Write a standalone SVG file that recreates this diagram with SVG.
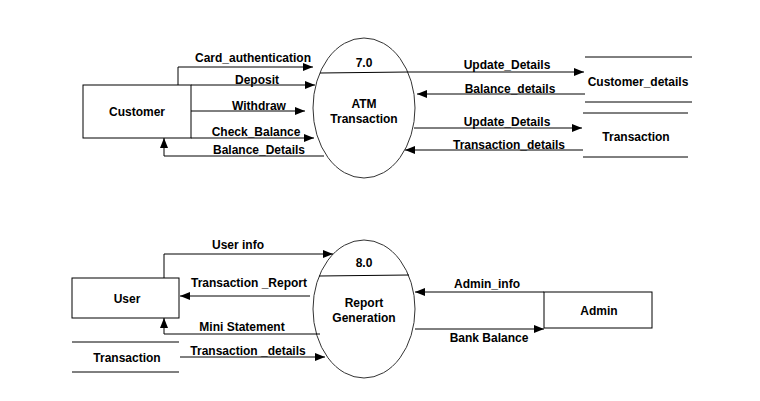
<svg xmlns="http://www.w3.org/2000/svg" width="760" height="401" viewBox="0 0 760 401">
<style>
text{font-family:"Liberation Sans",Arial,sans-serif;font-size:12px;font-weight:bold;fill:#000;text-anchor:middle}
.box{fill:#fff;stroke:#000;stroke-width:1}
.proc{fill:#fff;stroke:#333;stroke-width:1}
.ln{fill:none;stroke:#000;stroke-width:1}
.arr{fill:none;stroke:#000;stroke-width:1;marker-end:url(#ah)}
</style>
<defs>
<marker id="ah" markerUnits="userSpaceOnUse" markerWidth="10" markerHeight="8" refX="10" refY="4" orient="auto">
<path d="M0,0 L10,4 L0,8 z" fill="#000"/>
</marker>
</defs>
<rect width="760" height="401" fill="#fff"/>

<g id="customer">
<rect class="box" x="83" y="85" width="108" height="53"/>
<text x="137" y="116">Customer</text>
</g>
<g id="p7">
<ellipse class="proc" cx="364" cy="108" rx="51" ry="70"/>
<path class="ln" d="M320,73 L408,72"/>
<text x="364" y="67">7.0</text>
<text x="364" y="108">ATM</text>
<text x="364" y="123">Transaction</text>
</g>
<g id="customer_details">
<path class="ln" d="M585,57 H692 M585,102 H692"/>
<text x="638" y="86">Customer_details</text>
</g>
<g id="transaction_store1">
<path class="ln" d="M583,113 H688 M583,157 H688"/>
<text x="636" y="141">Transaction</text>
</g>

<g id="user">
<rect class="box" x="72" y="278" width="107" height="40"/>
<text x="127" y="303">User</text>
</g>
<g id="p8">
<ellipse class="proc" cx="364" cy="309" rx="51" ry="69"/>
<path class="ln" d="M319,276 L409,275"/>
<text x="364" y="267">8.0</text>
<text x="364" y="307">Report</text>
<text x="364" y="322">Generation</text>
</g>
<g id="transaction_store2">
<path class="ln" d="M72,342 H179 M72,372 H179"/>
<text x="127" y="362">Transaction</text>
</g>
<g id="admin">
<rect class="box" x="544" y="292" width="108" height="36"/>
<text x="599" y="315">Admin</text>
</g>

<g id="connectors">
<path class="arr" d="M178,85 V67 H313"/>
<text x="253" y="62">Card_authentication</text>
<path class="arr" d="M191,85 H315"/>
<text x="257" y="84">Deposit</text>
<path class="arr" d="M191,111 H305"/>
<text x="259" y="110">Withdraw</text>
<path class="arr" d="M191,138 H314"/>
<text x="256" y="136">Check_Balance</text>
<path class="arr" d="M324,156 H164 V138"/>
<text x="259" y="154">Balance_Details</text>

<path class="arr" d="M408,72 H584"/>
<text x="507" y="69">Update_Details</text>
<path class="arr" d="M585,94 H417"/>
<text x="510" y="93">Balance_details</text>
<path class="arr" d="M414,128 H582"/>
<text x="507" y="126">Update_Details</text>
<path class="arr" d="M583,150 H405"/>
<text x="509" y="149">Transaction_details</text>

<path class="arr" d="M164,278 V254 H333"/>
<text x="238" y="249">User info</text>
<path class="arr" d="M310,296 H180"/>
<text x="249" y="287">Transaction _Report</text>
<path class="arr" d="M320,334 H164 V318"/>
<text x="242" y="331">Mini Statement</text>
<path class="arr" d="M180,357 H325"/>
<text x="248" y="355">Transaction _details</text>

<path class="arr" d="M544,292 H415"/>
<text x="487" y="288">Admin_info</text>
<path class="arr" d="M415,329 H544"/>
<text x="489" y="342">Bank Balance</text>
</g>
</svg>
